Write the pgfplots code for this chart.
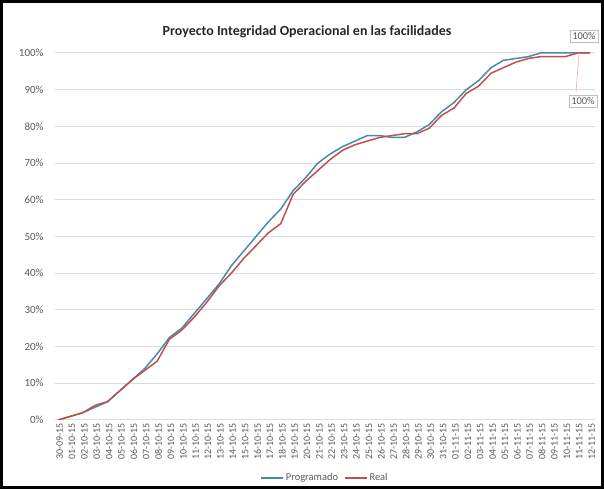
\documentclass[border=0pt]{standalone}
\usepackage{fontspec}
\setmainfont{Carlito}
\usepackage{pgfplots}
\pgfplotsset{compat=1.18}
\usepackage{pgfplotstable}
\definecolor{prog}{RGB}{72,138,168}
\definecolor{real}{RGB}{192,80,77}
\definecolor{tickc}{RGB}{89,89,89}
\definecolor{gridc}{RGB}{220,220,220}

\pgfplotstableread{
i P R
0 0 0
1 1 1
2 2 2
3 3.5 4
4 5 5
5 8 8
6 11 11
7 14 13.5
8 18 16
9 22.5 22
10 25 24.5
11 29 28
12 33 32
13 37 36.5
14 42 40
15 46 44
16 50 47.5
17 54 51
18 57.5 53.5
19 62.5 61.5
20 66 65
21 70 68
22 72.5 71
23 74.5 73.5
24 76 75
25 77.5 76
26 77.5 77
27 77 77.5
28 77 78
29 78.5 78
30 80.5 79.5
31 84 83
32 86.5 85
33 90 89
34 92.5 91
35 96 94.5
36 98 96
37 98.5 97.5
38 99 98.5
39 100 99
40 100 99
41 100 99
42 100 100
43 100 100
}\data

\begin{document}
\begin{tikzpicture}[x=1bp,y=1bp]
\path[use as bounding box] (0,0) rectangle (604,489);
\begin{axis}[at={(55bp,69bp)}, anchor=south west, scale only axis,
  width=540bp, height=367bp,
  xmin=-0.25, xmax=43.4, ymin=0, ymax=100,
  axis line style={draw=none},
  major tick length=0pt,
  ymajorgrids, grid style={gridc, line width=1bp},
  ytick={0,10,...,100},
  yticklabels={0\%,10\%,20\%,30\%,40\%,50\%,60\%,70\%,80\%,90\%,100\%},
  xtick={0,...,43},
  xticklabels={30-09-15,01-10-15,02-10-15,03-10-15,04-10-15,05-10-15,06-10-15,07-10-15,08-10-15,09-10-15,10-10-15,11-10-15,12-10-15,13-10-15,14-10-15,15-10-15,16-10-15,17-10-15,18-10-15,19-10-15,20-10-15,21-10-15,22-10-15,23-10-15,24-10-15,25-10-15,26-10-15,27-10-15,28-10-15,29-10-15,30-10-15,31-10-15,01-11-15,02-11-15,03-11-15,04-11-15,05-11-15,06-11-15,07-11-15,08-11-15,09-11-15,10-11-15,11-11-15,12-11-15},
  tick label style={text=tickc},
  xticklabel style={font=\fontsize{10}{12}\selectfont, rotate=90, anchor=east, yshift=-1.5bp},
  yticklabel style={font=\fontsize{11}{13}\selectfont, xshift=-8bp},
  legend style={at={(0.5,-0.158)}, anchor=center, draw=none, fill=none,
    font=\fontsize{10.5}{12}\selectfont, text=tickc, inner sep=0pt,
    /tikz/every even column/.append style={column sep=4bp}},
  legend columns=2,
  legend image code/.code={\draw[#1] (0bp,0bp) -- (22bp,0bp);},
]
\addplot[prog, line width=1.5bp] table[x=i, y=P] {\data};
\addlegendentry{Programado}
\addplot[real, line width=1.5bp] table[x=i, y=R] {\data};
\addlegendentry{Real}
\end{axis}
\node[font=\bfseries\fontsize{14}{16}\selectfont, text=black!85] at (307,457) {Proyecto Integridad Operacional en las facilidades};
\draw[real!45, line width=0.6bp] (576,397) -- (579,436);
\node[draw=gray!50, fill=white, font=\fontsize{10.5}{12}\selectfont, text=tickc, inner sep=2.5bp] at (584,453) {100\%};
\node[draw=gray!50, fill=white, font=\fontsize{10.5}{12}\selectfont, text=tickc, inner sep=2.5bp] at (583,388) {100\%};
\draw[line width=3bp] (1.5,1.5) rectangle (602.5,487.5);
\end{tikzpicture}
\end{document}
